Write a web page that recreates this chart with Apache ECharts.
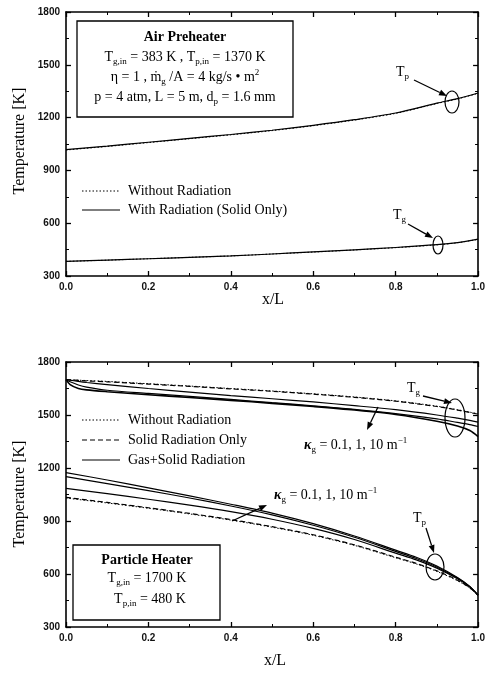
<!DOCTYPE html>
<html><head><meta charset="utf-8">
<script src="https://cdn.jsdelivr.net/npm/echarts@6/dist/echarts.min.js"></script>
<style>html,body{margin:0;padding:0;background:#fff}#c{width:488px;height:675px}</style>
</head><body><div id="c"></div>
<script>
// ---------- DATA ----------
// Top: Air Preheater
const xTop = [0, 0.1, 0.2, 0.3, 0.4, 0.5, 0.6, 0.7, 0.8, 0.9, 0.95, 1.0];
const tpTopRad = [1018, 1038, 1060, 1082, 1104, 1128, 1156, 1188, 1226, 1282, 1308, 1340];
const tpTopNoRad = [1016, 1036, 1058, 1080, 1102, 1126, 1154, 1186, 1224, 1280, 1306, 1338];
const tgTopRad = [383, 390, 398, 406, 414, 425, 437, 449, 462, 478, 490, 510];
const tgTopNoRad = [383, 390, 398, 406, 414, 425, 436, 448, 461, 477, 489, 508];

// Bottom: Particle Heater - gas temperature
const xTgBot = [0, 0.01, 0.03, 0.05, 0.1, 0.2, 0.3, 0.4, 0.5, 0.6, 0.7, 0.8, 0.9, 0.95, 0.98, 1.0];
const tgNoRad = [1700, 1699, 1697, 1695, 1690, 1677, 1664, 1650, 1636, 1620, 1602, 1580, 1550, 1530, 1516, 1507];
const tgSolid = [1700, 1699, 1696, 1693, 1688, 1675, 1662, 1648, 1634, 1618, 1600, 1578, 1548, 1528, 1514, 1505];
const tgK01 = [1700, 1697, 1690, 1684, 1672, 1650, 1630, 1610, 1592, 1574, 1553, 1530, 1500, 1482, 1470, 1460];
const tgK1 = [1700, 1688, 1670, 1658, 1640, 1622, 1605, 1588, 1570, 1552, 1532, 1508, 1478, 1458, 1446, 1435];
const tgK10 = [1700, 1672, 1650, 1642, 1632, 1615, 1599, 1583, 1566, 1548, 1528, 1503, 1465, 1438, 1412, 1378];

// Bottom: Particle Heater - particle temperature
const xTpBot = [0, 0.1, 0.2, 0.3, 0.4, 0.5, 0.6, 0.7, 0.8, 0.85, 0.9, 0.95, 0.98, 1.0];
const tpNoRad = [1030, 1002, 972, 940, 905, 865, 819, 762, 692, 657, 615, 562, 520, 480];
const tpSolid = [1034, 1005, 975, 943, 908, 868, 822, 765, 695, 660, 618, 565, 522, 480];
const tpK01 = [1085, 1055, 1023, 990, 953, 910, 858, 795, 718, 680, 633, 573, 526, 480];
const tpK1 = [1151, 1112, 1072, 1030, 985, 935, 876, 808, 728, 688, 640, 577, 528, 480];
const tpK10 = [1174, 1132, 1088, 1042, 995, 945, 885, 815, 735, 695, 645, 580, 530, 480];

const yTicks = [300, 600, 900, 1200, 1500, 1800];
const xTicks = [0, 0.2, 0.4, 0.6, 0.8, 1.0];

// ---------- CHART ----------
const SERIF = '"Liberation Serif","DejaVu Serif",serif';
const SANS = '"Liberation Sans","DejaVu Sans",sans-serif';
const chart = echarts.init(document.getElementById('c'), null, {renderer: 'canvas'});

function pairs(xs, ys) { return xs.map((x, i) => [x, ys[i]]); }

function xAx(gi, show) {
  return {
    gridIndex: gi, type: 'value', min: xTicks[0], max: xTicks[xTicks.length - 1], interval: 0.2,
    position: show ? 'bottom' : 'top',
    axisLine: {show: true, onZero: false, lineStyle: {color: '#000', width: 1.6}},
    axisTick: {show: true, inside: true, length: 5, lineStyle: {color: '#000', width: 1.3}},
    minorTick: {show: true, splitNumber: 2, length: 3, lineStyle: {color: '#000', width: 1}},
    axisLabel: {show: show, margin: 6, fontSize: 10, fontWeight: 'bold', fontFamily: SANS, color: '#111',
      formatter: v => v.toFixed(1)},
    splitLine: {show: false}
  };
}
function yAx(gi, show) {
  return {
    gridIndex: gi, type: 'value', min: yTicks[0], max: yTicks[yTicks.length - 1], interval: 300,
    position: show ? 'left' : 'right',
    axisLine: {show: true, onZero: false, lineStyle: {color: '#000', width: 1.6}},
    axisTick: {show: true, inside: true, length: 5, lineStyle: {color: '#000', width: 1.3}},
    minorTick: {show: true, splitNumber: 2, length: 3, lineStyle: {color: '#000', width: 1}},
    axisLabel: {show: show, margin: 6, fontSize: 10, fontWeight: 'bold', fontFamily: SANS, color: '#111',
      formatter: v => String(Math.round(v))},
    splitLine: {show: false}
  };
}
function ser(xi, yi, xs, ys, type, w) {
  return {
    type: 'line', xAxisIndex: xi, yAxisIndex: yi, data: pairs(xs, ys), smooth: 0.3,
    symbol: 'none', silent: true,
    lineStyle: {color: '#000', width: w || 1.2, type: type}
  };
}

const mainRich = {
  m: {fontFamily: SERIF, fontSize: 14, color: '#000', lineHeight: 18, verticalAlign: 'middle'},
  s: {fontFamily: SERIF, fontSize: 9, color: '#000', lineHeight: 10, verticalAlign: 'bottom'},
  p: {fontFamily: SERIF, fontSize: 9, color: '#000', lineHeight: 10, verticalAlign: 'top'},
  k: {fontFamily: SERIF, fontSize: 14, fontStyle: 'italic', fontWeight: 'bold', color: '#000', lineHeight: 18, verticalAlign: 'middle'},
  b: {fontFamily: SERIF, fontSize: 14, fontWeight: 'bold', color: '#000', lineHeight: 18, verticalAlign: 'middle'}
};
function rtext(x, y, str, align) {
  return {type: 'text', x: x, y: y, z: 100,
    style: {text: str, rich: mainRich, align: align || 'left', verticalAlign: 'middle'}};
}
function ptext(x, y, str, size, align, bold) {
  return {type: 'text', x: x, y: y, z: 100,
    style: {text: str, fontFamily: SERIF, fontSize: size, fontWeight: bold ? 'bold' : 'normal',
      fill: '#000', align: align || 'left', verticalAlign: 'middle'}};
}
function seg(x1, y1, x2, y2, dash, w) {
  return {type: 'line', z: 100, shape: {x1, y1, x2, y2},
    style: {stroke: '#000', lineWidth: w || 1.2, lineDash: dash || null}};
}
function arrow(x1, y1, x2, y2) {
  const a = Math.atan2(y2 - y1, x2 - x1), L = 8, W = 3;
  const bx = x2 - L * Math.cos(a), by = y2 - L * Math.sin(a);
  const px = -Math.sin(a) * W, py = Math.cos(a) * W;
  return [seg(x1, y1, bx, by, null, 1.3),
    {type: 'polygon', z: 100, shape: {points: [[x2, y2], [bx + px, by + py], [bx - px, by - py]]},
      style: {fill: '#000'}}];
}
function ell(cx, cy, rx, ry) {
  return {type: 'ellipse', z: 100, shape: {cx, cy, rx, ry}, style: {stroke: '#000', fill: null, lineWidth: 1.2}};
}

const graphics = [
  // axis titles
  {type: 'text', x: 20, y: 141, rotation: Math.PI / 2, z: 100,
    style: {text: 'Temperature [K]', fontFamily: SERIF, fontSize: 16, fill: '#000', align: 'center', verticalAlign: 'middle'}},
  {type: 'text', x: 20, y: 494, rotation: Math.PI / 2, z: 100,
    style: {text: 'Temperature [K]', fontFamily: SERIF, fontSize: 16, fill: '#000', align: 'center', verticalAlign: 'middle'}},
  ptext(273, 300, 'x/L', 16, 'center'),
  ptext(275, 661, 'x/L', 16, 'center'),
  // top info box
  {type: 'rect', z: 90, shape: {x: 77, y: 21, width: 216, height: 96}, style: {fill: '#fff', stroke: '#000', lineWidth: 1.3}},
  rtext(185, 37, '{b|Air Preheater}', 'center'),
  rtext(185, 57, '{m|T}{s|g,in}{m| = 383 K , T}{s|p,in}{m| = 1370 K}', 'center'),
  rtext(185, 77, '{m|η = 1 , ṁ}{s|g}{m| /A = 4 kg/s • m}{p|2}', 'center'),
  rtext(185, 97, '{m|p = 4 atm, L = 5 m, d}{s|p}{m| = 1.6 mm}', 'center'),
  // top legend
  seg(82, 191, 120, 191, [1.5, 2], 1),
  ptext(128, 191, 'Without Radiation', 14),
  seg(82, 210, 120, 210, null, 1.2),
  ptext(128, 210, 'With Radiation (Solid Only)', 14),
  // top annotations
  rtext(396, 72, '{m|T}{s|p}'),
  ...arrow(414, 80, 447, 96),
  ell(452, 102, 7, 11),
  rtext(393, 215, '{m|T}{s|g}'),
  ...arrow(408, 224, 433, 238),
  ell(438, 245, 5, 9),
  // bottom legend
  seg(82, 420, 120, 420, [1.5, 2], 1),
  ptext(128, 420, 'Without Radiation', 14),
  seg(82, 440, 120, 440, [5, 3], 1.2),
  ptext(128, 440, 'Solid Radiation Only', 14),
  seg(82, 460, 120, 460, null, 1.2),
  ptext(128, 460, 'Gas+Solid Radiation', 14),
  // bottom annotations
  rtext(407, 388, '{m|T}{s|g}'),
  ...arrow(423, 396, 452, 403),
  ell(455, 418, 10, 19),
  rtext(304, 445, '{k|κ}{s|g}{m| = 0.1, 1, 10 m}{p|−1}'),
  ...arrow(378, 407, 367, 430),
  rtext(274, 495, '{k|κ}{s|g}{m| = 0.1, 1, 10 m}{p|−1}'),
  ...arrow(232, 521, 267, 505),
  rtext(413, 518, '{m|T}{s|p}'),
  ...arrow(426, 528, 434, 553),
  ell(435, 567, 9, 13),
  // bottom info box
  {type: 'rect', z: 90, shape: {x: 73, y: 545, width: 147, height: 75}, style: {fill: '#fff', stroke: '#000', lineWidth: 1.3}},
  rtext(147, 560, '{b|Particle Heater}', 'center'),
  rtext(147, 578, '{m|T}{s|g,in}{m| = 1700 K}', 'center'),
  rtext(150, 599, '{m|T}{s|p,in}{m| = 480 K}', 'center')
];

const option = {
  animation: false,
  backgroundColor: '#fff',
  grid: [
    {left: 66, top: 12, width: 416, height: 264},
    {left: 66, top: 362, width: 414, height: 265}
  ],
  xAxis: [xAx(0, true), xAx(0, false), xAx(1, true), xAx(1, false)],
  yAxis: [yAx(0, true), yAx(0, false), yAx(1, true), yAx(1, false)],
  series: [
    ser(0, 0, xTop, tpTopNoRad, [1.5, 2], 1),
    ser(0, 0, xTop, tpTopRad, 'solid'),
    ser(0, 0, xTop, tgTopNoRad, [1.5, 2], 1),
    ser(0, 0, xTop, tgTopRad, 'solid'),
    ser(2, 2, xTgBot, tgNoRad, [1.5, 2], 1),
    ser(2, 2, xTgBot, tgSolid, [5, 3]),
    ser(2, 2, xTgBot, tgK01, 'solid'),
    ser(2, 2, xTgBot, tgK1, 'solid'),
    ser(2, 2, xTgBot, tgK10, 'solid', 1.6),
    ser(2, 2, xTpBot, tpNoRad, [1.5, 2], 1),
    ser(2, 2, xTpBot, tpSolid, [5, 3]),
    ser(2, 2, xTpBot, tpK01, 'solid'),
    ser(2, 2, xTpBot, tpK1, 'solid'),
    ser(2, 2, xTpBot, tpK10, 'solid')
  ],
  graphic: graphics
};
chart.setOption(option);
</script></body></html>
